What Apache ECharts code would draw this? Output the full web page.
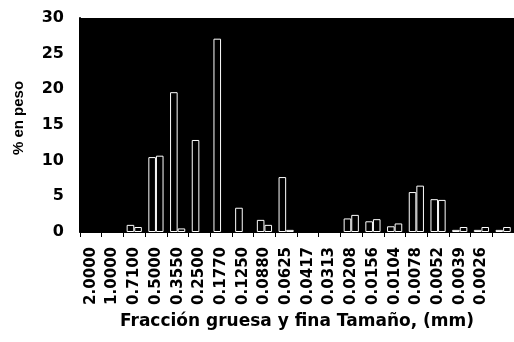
<!DOCTYPE html>
<html>
<head>
<meta charset="utf-8">
<script src="https://cdn.jsdelivr.net/npm/echarts@6/dist/echarts.min.js"></script>
<style>
html,body{margin:0;padding:0;background:#fff;}
#chart{width:514px;height:342px;}
</style>
</head>
<body>
<div id="chart"></div>
<script>
// Size fractions (mm)
const categories = ['2.0000','1.0000','0.7100','0.5000','0.3550','0.2500','0.1770','0.1250','0.0880','0.0625',
                    '0.0417','0.0313','0.0208','0.0156','0.0104','0.0078','0.0052','0.0039','0.0026',''];
// % en peso, first bar in each group
const seriesA = [0, 0, 1.0, 10.5, 19.6, 12.9, 27.1, 3.4, 1.7, 7.7, 0, 0, 1.9, 1.5, 0.8, 5.6, 4.6, 0.3, 0.3, 0.3];
// % en peso, second bar in each group
const seriesB = [0, 0, 0.7, 10.7, 0.5, 0, 0, 0, 1.0, 0.3, 0, 0, 2.4, 1.8, 1.2, 6.5, 4.5, 0.7, 0.7, 0.7];
const yTicks = [0, 5, 10, 15, 20, 25, 30];

// empty fractions are not drawn
const toBars = arr => arr.map(v => (v === 0 ? null : v));

const chart = echarts.init(document.getElementById('chart'), null, {renderer: 'canvas'});
const barStyle = {color: '#000', borderColor: '#fff', borderWidth: 1};
chart.setOption({
  animation: false,
  backgroundColor: '#fff',
  grid: {left: 80, right: 0, top: 18, bottom: 110, show: true, backgroundColor: '#000', borderColor: '#000', borderWidth: 0},
  xAxis: {
    type: 'category',
    data: categories,
    name: 'Fracción gruesa y fina Tamaño, (mm)',
    nameLocation: 'middle',
    nameGap: 81,
    nameTextStyle: {fontFamily: 'DejaVu Sans', fontWeight: 'bold', fontSize: 17, color: '#000'},
    axisLine: {show: true, lineStyle: {color: '#000', width: 1}},
    axisTick: {show: true, length: 5, lineStyle: {color: '#000'}},
    axisLabel: {rotate: 90, margin: 15, interval: 0, fontFamily: 'DejaVu Sans', fontWeight: 'bold', fontSize: 15, color: '#000'},
    splitLine: {show: false}
  },
  yAxis: {
    type: 'value',
    min: yTicks[0],
    max: yTicks[yTicks.length - 1],
    interval: 5,
    name: '% en peso',
    nameLocation: 'middle',
    nameGap: 54,
    nameTextStyle: {fontFamily: 'Liberation Sans', fontWeight: 'bold', fontSize: 15, color: '#000', padding: [0, 0, 0, 14]},
    axisLine: {show: true, lineStyle: {color: '#000', width: 2}},
    axisTick: {show: false},
    axisLabel: {margin: 16, fontFamily: 'DejaVu Sans', fontWeight: 'bold', fontSize: 16, color: '#000'},
    splitLine: {show: false}
  },
  series: [
    {type: 'bar', data: toBars(seriesA), barGap: '0%', barCategoryGap: '30%', itemStyle: barStyle},
    {type: 'bar', data: toBars(seriesB), barGap: '0%', barCategoryGap: '30%', itemStyle: barStyle}
  ]
});
</script>
</body>
</html>
